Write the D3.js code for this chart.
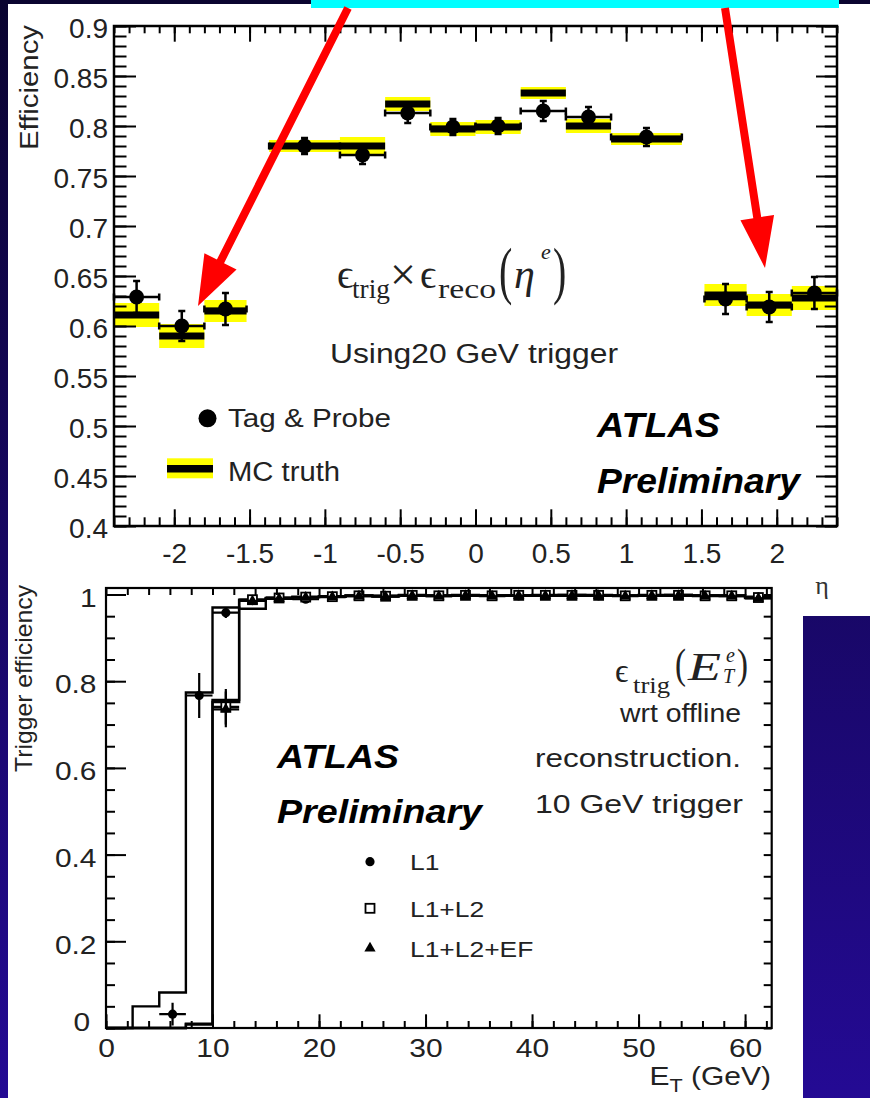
<!DOCTYPE html>
<html>
<head>
<meta charset="utf-8">
<script src="https://d3js.org/d3.v7.min.js"></script>
<style>
  body, html { margin: 0; padding: 0; overflow: hidden; background: #0b0533; }
  svg { display: block; }
  text { font-family: "Liberation Sans", Arial, sans-serif; fill: #222; }
  .serif { font-family: "Liberation Serif", "DejaVu Serif", serif; }
</style>
</head>
<body>
<svg id="slide" width="870" height="1098"></svg>
<script>
// ---------- top plot: efficiency vs eta ----------
var etaLo       = [-2.4, -2.1, -1.8, -1.37, -0.9, -0.6, -0.3, 0.0, 0.3, 0.6, 0.9, 1.52, 1.8, 2.1];
var etaHi       = [-2.1, -1.8, -1.52, -0.9, -0.6, -0.3, 0.0, 0.3, 0.6, 0.9, 1.37, 1.8, 2.1, 2.4];
var tagProbe    = [0.629, 0.600, 0.617, 0.780, 0.771, 0.813, 0.799, 0.800, 0.815, 0.809, 0.789, 0.627, 0.619, 0.633];
var tagProbeErr = [0.016, 0.015, 0.016, 0.008, 0.009, 0.010, 0.008, 0.008, 0.010, 0.010, 0.009, 0.015, 0.015, 0.016];
var mcTruth     = [0.611, 0.590, 0.615, 0.780, 0.780, 0.822, 0.797, 0.799, 0.833, 0.800, 0.787, 0.631, 0.621, 0.628];
var mcTruthErr  = [0.012, 0.012, 0.011, 0.006, 0.009, 0.007, 0.007, 0.007, 0.006, 0.007, 0.006, 0.011, 0.011, 0.012];
var etaTicks = [-2, -1.5, -1, -0.5, 0, 0.5, 1, 1.5, 2];
var effTicks = [0.4, 0.45, 0.5, 0.55, 0.6, 0.65, 0.7, 0.75, 0.8, 0.85, 0.9];

// ---------- bottom plot: trigger efficiency vs E_T ----------
var etEdges = [0, 2.5, 5, 7.5, 10, 12.5, 15, 17.5, 20, 22.5, 25, 27.5, 30, 32.5, 35, 37.5, 40, 42.5, 45, 47.5, 50, 52.5, 55, 57.5, 60, 62.5];
var histL1     = [0, 0.050, 0.082, 0.774, 0.970, 0.967, 0.991, 0.994, 0.996, 0.997, 0.996, 0.998, 0.997, 0.998, 0.998, 0.997, 0.998, 0.999, 0.998, 0.997, 0.998, 0.999, 0.998, 0.997, 0.995];
var histL1L2   = [0, 0, 0, 0.010, 0.757, 0.988, 0.992, 0.995, 0.996, 0.998, 0.997, 0.999, 0.998, 0.999, 0.998, 0.998, 0.999, 0.999, 0.999, 0.998, 0.999, 0.999, 0.998, 0.998, 0.994];
var histL1L2EF = [0, 0, 0, 0.008, 0.752, 0.986, 0.990, 0.994, 0.995, 0.997, 0.996, 0.998, 0.997, 0.998, 0.997, 0.997, 0.998, 0.998, 0.998, 0.997, 0.998, 0.998, 0.997, 0.997, 0.992];
var ptsL1      = [null, null, 0.032, 0.767, 0.958, 0.986, 0.993, 0.989, 0.996, 0.996, 0.997, 0.998, 0.996, 0.998, 0.997, 0.997, 0.998, 0.998, 0.997, 0.997, 0.998, 0.998, 0.997, 0.996, 0.994];
var errL1      = [0, 0, 0.026, 0.052, 0.012, 0.006, 0.004, 0.004, 0.003, 0.003, 0.003, 0.003, 0.003, 0.003, 0.003, 0.003, 0.003, 0.003, 0.003, 0.003, 0.003, 0.003, 0.003, 0.003, 0.004];
var ptsL1L2    = [null, null, null, null, 0.741, 0.988, 0.992, 0.994, 0.995, 0.997, 0.996, 0.998, 0.997, 0.998, 0.997, 0.998, 0.998, 0.998, 0.998, 0.997, 0.998, 0.998, 0.997, 0.997, 0.993];
var ptsL1L2EF  = [null, null, null, null, 0.735, 0.985, 0.990, 0.993, 0.994, 0.996, 0.995, 0.997, 0.996, 0.997, 0.996, 0.997, 0.997, 0.997, 0.997, 0.996, 0.997, 0.997, 0.996, 0.996, 0.991];
var errL1L2    = [0, 0, 0, 0, 0.041, 0.006, 0.004, 0.004, 0.003, 0.003, 0.003, 0.003, 0.003, 0.003, 0.003, 0.003, 0.003, 0.003, 0.003, 0.003, 0.003, 0.003, 0.003, 0.003, 0.004];
var etTicks = [0, 10, 20, 30, 40, 50, 60];
var trigTicks = [0, 0.2, 0.4, 0.6, 0.8, 1];
var legendLabels = ["L1", "L1+L2", "L1+L2+EF"];

var svg = d3.select("#slide");

// slide background
var defs = svg.append("defs");
var grad = defs.append("linearGradient").attr("id", "bg")
  .attr("gradientUnits", "userSpaceOnUse")
  .attr("x1", 0).attr("y1", 0).attr("x2", 0).attr("y2", 1098);
grad.append("stop").attr("offset", "0%").attr("stop-color", "#0a0430");
grad.append("stop").attr("offset", "100%").attr("stop-color", "#240a94");
svg.append("rect").attr("width", 870).attr("height", 1098).attr("fill", "url(#bg)");
svg.append("rect").attr("x", 8).attr("y", 4).attr("width", 862).attr("height", 1094).attr("fill", "#fff");
svg.append("rect").attr("x", 803).attr("y", 616).attr("width", 67).attr("height", 482).attr("fill", "url(#bg)");
svg.append("rect").attr("x", 311).attr("y", 0).attr("width", 528).attr("height", 8).attr("fill", "#00ffff");

// stretch text horizontally a bit, the slide figure is wider than the font
function widen(sel, k) {
  sel.each(function () {
    var w = this.getComputedTextLength();
    d3.select(this).attr("textLength", w * k).attr("lengthAdjust", "spacingAndGlyphs");
  });
  return sel;
}

function tickAxis(g, axisFn, scale, values, size, labels) {
  var ax = axisFn(scale).tickValues(values).tickSize(-size).tickSizeOuter(0);
  ax.tickFormat(labels ? function (d) { return String(d); } : "");
  g.call(ax);
  g.select(".domain").remove();
  g.attr("font-family", null).attr("font-size", null);
  g.selectAll("line").attr("stroke", "#000").attr("stroke-width", 2);
  return g;
}

function label(x, y, str, size, opts) {
  opts = opts || {};
  var t = svg.append("text").attr("x", x).attr("y", y).attr("font-size", size).text(str);
  if (opts.anchor) t.attr("text-anchor", opts.anchor);
  if (opts.weight) t.attr("font-weight", opts.weight);
  if (opts.italic) t.attr("font-style", "italic");
  if (opts.cls) t.attr("class", opts.cls);
  if (opts.len) t.attr("textLength", opts.len).attr("lengthAdjust", "spacingAndGlyphs");
  if (opts.rotate) t.attr("transform", "rotate(-90," + x + "," + y + ")");
  if (opts.fill) t.style("fill", opts.fill);
  return t;
}

function paren(x, cy, str, size, sy) {
  svg.append("g").attr("transform", "translate(" + x + "," + cy + ") scale(1," + sy + ")")
    .append("text").attr("class", "serif").attr("font-size", size)
    .attr("y", size * 0.26).text(str);
}

// ================= top plot =================
var xEta = d3.scaleLinear().domain([-2.4, 2.4]).range([114, 837]);
var yEff = d3.scaleLinear().domain([0.4, 0.9]).range([526, 26]);
var bins = etaLo.map(function (lo, i) {
  return { lo: lo, hi: etaHi[i], tp: tagProbe[i], tpErr: tagProbeErr[i], mc: mcTruth[i], mcErr: mcTruthErr[i] };
});

var p1 = svg.append("g");
p1.selectAll("rect.band").data(bins).join("rect").attr("class", "band")
  .attr("x", function (d) { return xEta(d.lo); })
  .attr("width", function (d) { return xEta(d.hi) - xEta(d.lo); })
  .attr("y", function (d) { return yEff(d.mc + d.mcErr); })
  .attr("height", function (d) { return yEff(d.mc - d.mcErr) - yEff(d.mc + d.mcErr); })
  .attr("fill", "#ffff00");
p1.selectAll("line.mc").data(bins).join("line").attr("class", "mc")
  .attr("x1", function (d) { return xEta(d.lo); })
  .attr("x2", function (d) { return xEta(d.hi); })
  .attr("y1", function (d) { return yEff(d.mc); })
  .attr("y2", function (d) { return yEff(d.mc); })
  .attr("stroke", "#000").attr("stroke-width", 7);
// tag & probe error bars with end caps
p1.selectAll("path.err").data(bins).join("path").attr("class", "err")
  .attr("d", function (d) {
    var x0 = xEta(d.lo), x1 = xEta(d.hi), cx = xEta((d.lo + d.hi) / 2);
    var y = yEff(d.tp), yt = yEff(d.tp + d.tpErr), yb = yEff(d.tp - d.tpErr), c = 3.5;
    return "M" + x0 + "," + y + "H" + x1 +
      "M" + x0 + "," + (y - c) + "V" + (y + c) +
      "M" + x1 + "," + (y - c) + "V" + (y + c) +
      "M" + cx + "," + yt + "V" + yb +
      "M" + (cx - c) + "," + yt + "H" + (cx + c) +
      "M" + (cx - c) + "," + yb + "H" + (cx + c);
  })
  .attr("fill", "none").attr("stroke", "#000").attr("stroke-width", 2.5);
p1.selectAll("circle.tp").data(bins).join("circle").attr("class", "tp")
  .attr("cx", function (d) { return xEta((d.lo + d.hi) / 2); })
  .attr("cy", function (d) { return yEff(d.tp); })
  .attr("r", 7.5).attr("fill", "#000");

// axes (ROOT style, ticks inside on all four sides)
var etaMinor = d3.range(-24, 25).map(function (v) { return v / 10; });
var effMinor = d3.range(40, 91).map(function (v) { return v / 100; });
tickAxis(p1.append("g").attr("transform", "translate(0,526)"), d3.axisBottom, xEta, etaMinor, 8.7, false);
var xb1 = tickAxis(p1.append("g").attr("transform", "translate(0,526)"), d3.axisBottom, xEta, etaTicks, 16.7, true);
xb1.selectAll("text").attr("y", 37).attr("dy", null).attr("font-size", 28);
tickAxis(p1.append("g").attr("transform", "translate(0,26)"), d3.axisTop, xEta, etaMinor, 7.3, false);
tickAxis(p1.append("g").attr("transform", "translate(0,26)"), d3.axisTop, xEta, etaTicks, 15.7, false);
tickAxis(p1.append("g").attr("transform", "translate(114,0)"), d3.axisLeft, yEff, effMinor, 12.5, false);
var yl1 = tickAxis(p1.append("g").attr("transform", "translate(114,0)"), d3.axisLeft, yEff, effTicks, 22, true);
yl1.selectAll("text").attr("x", -6).attr("dy", "0.4em").attr("font-size", 28);
tickAxis(p1.append("g").attr("transform", "translate(837,0)"), d3.axisRight, yEff, effMinor, 12.3, false);
tickAxis(p1.append("g").attr("transform", "translate(837,0)"), d3.axisRight, yEff, effTicks, 21, false);
p1.append("rect").attr("x", 114).attr("y", 26).attr("width", 723).attr("height", 500)
  .attr("fill", "none").attr("stroke", "#000").attr("stroke-width", 2.5);

label(38, 25, "Efficiency", 26, { anchor: "end", rotate: true, len: 125 });
label(822, 594, "\u03b7", 26, { anchor: "middle", cls: "serif", fill: "#333" });

// formula  eps_trig x eps_reco (eta^e)
label(337, 288, "\u03f5", 40, { cls: "serif" });
label(352, 298, "trig", 27, { cls: "serif", len: 38 });
label(390, 290, "\u00d7", 46, { cls: "serif", len: 26 });
label(420, 288, "\u03f5", 40, { cls: "serif" });
label(438, 298, "reco", 27, { cls: "serif", len: 58 });
paren(499, 275.5, "(", 40, 1.58);
label(514, 288, "\u03b7", 42, { cls: "serif", italic: true });
label(541, 259, "e", 22, { cls: "serif", italic: true });
paren(553, 275.5, ")", 40, 1.58);

label(330, 363, "Using20 GeV trigger", 27, { len: 288 });

// legend
svg.append("circle").attr("cx", 207.5).attr("cy", 418.3).attr("r", 9).attr("fill", "#000");
label(228, 427, "Tag & Probe", 26, { len: 163 });
svg.append("rect").attr("x", 167).attr("y", 458.3).attr("width", 46).attr("height", 20).attr("fill", "#ffff00");
svg.append("line").attr("x1", 167).attr("x2", 213).attr("y1", 468.8).attr("y2", 468.8)
  .attr("stroke", "#000").attr("stroke-width", 7.5);
label(228, 481, "MC truth", 27, { len: 112 });

label(597, 437, "ATLAS", 35, { weight: "bold", italic: true, len: 123 }).style("fill", "#000");
label(597, 493, "Preliminary", 35, { weight: "bold", italic: true, len: 203 }).style("fill", "#000");

// ================= bottom plot =================
var xEt = d3.scaleLinear().domain([0, 62.5]).range([106, 771.7]);
var yTrig = d3.scaleLinear().domain([0, 1.015]).range([1028, 588]);
var p2 = svg.append("g");

function stepPoints(vals) {
  var pts = [];
  vals.forEach(function (v, i) {
    pts.push([etEdges[i], v]);
    pts.push([etEdges[i + 1], v]);
  });
  return pts;
}
var stepLine = d3.line()
  .x(function (d) { return xEt(d[0]); })
  .y(function (d) { return yTrig(d[1]); });
[histL1, histL1L2, histL1L2EF].forEach(function (h) {
  p2.append("path").attr("d", stepLine(stepPoints(h)))
    .attr("fill", "none").attr("stroke", "#000").attr("stroke-width", 2.4);
});

function seriesPts(vals, errs) {
  var out = [];
  vals.forEach(function (v, i) {
    if (v === null) return;
    out.push({ lo: etEdges[i], hi: etEdges[i + 1], v: v, e: errs[i] });
  });
  return out;
}
var series = [
  { pts: seriesPts(ptsL1, errL1), kind: "circle" },
  { pts: seriesPts(ptsL1L2, errL1L2), kind: "square" },
  { pts: seriesPts(ptsL1L2EF, errL1L2), kind: "triangle" }
];
var triSym = d3.symbol().type(d3.symbolTriangle).size(55);
series.forEach(function (s) {
  var g = p2.append("g");
  g.selectAll("path.err").data(s.pts).join("path").attr("class", "err")
    .attr("d", function (d) {
      var cx = xEt((d.lo + d.hi) / 2), y = yTrig(d.v);
      return "M" + xEt(d.lo) + "," + y + "H" + xEt(d.hi) +
        "M" + cx + "," + yTrig(Math.min(d.v + d.e, 1.013)) + "V" + yTrig(Math.max(d.v - d.e, 0));
    })
    .attr("fill", "none").attr("stroke", "#000").attr("stroke-width", 2.2);
  var m = g.selectAll("g.m").data(s.pts).join("g").attr("class", "m")
    .attr("transform", function (d) { return "translate(" + xEt((d.lo + d.hi) / 2) + "," + yTrig(d.v) + ")"; });
  if (s.kind === "circle") m.append("circle").attr("r", 4.6).attr("fill", "#000");
  if (s.kind === "square") m.append("rect").attr("x", -4.5).attr("y", -4.5).attr("width", 9).attr("height", 9)
    .attr("fill", "#fff").attr("stroke", "#000").attr("stroke-width", 1.8);
  if (s.kind === "triangle") m.append("path").attr("d", triSym()).attr("fill", "#000");
});

var etMinor = d3.range(0, 63, 2);
var trigMinor = d3.range(0, 21).map(function (v) { return v * 0.05; });
tickAxis(p2.append("g").attr("transform", "translate(0,1028)"), d3.axisBottom, xEt, etMinor, 7, false);
var xb2 = tickAxis(p2.append("g").attr("transform", "translate(0,1028)"), d3.axisBottom, xEt, etTicks, 13.7, true);
xb2.selectAll("text").attr("y", 28.7).attr("dy", null).attr("font-size", 25);
tickAxis(p2.append("g").attr("transform", "translate(0,588)"), d3.axisTop, xEt, etMinor, 7, false);
tickAxis(p2.append("g").attr("transform", "translate(106,0)"), d3.axisLeft, yTrig, trigMinor, 9, false);
var yl2 = tickAxis(p2.append("g").attr("transform", "translate(106,0)"), d3.axisLeft, yTrig, trigTicks, 20, true);
yl2.selectAll("text").attr("x", -9.5).attr("dy", "0.45em").attr("font-size", 26);
yl2.selectAll("text").filter(function (d) { return d === 0; }).attr("x", -16).attr("dy", "0.1em");
tickAxis(p2.append("g").attr("transform", "translate(771.7,0)"), d3.axisRight, yTrig, trigMinor, 8, false);
p2.append("rect").attr("x", 106).attr("y", 588).attr("width", 665.7).attr("height", 440)
  .attr("fill", "none").attr("stroke", "#000").attr("stroke-width", 2.2);
widen(xb2.selectAll("text"), 1.2);
widen(yl2.selectAll("text"), 1.15);

label(32, 585, "Trigger efficiency", 24, { anchor: "end", rotate: true, len: 187 });
var etTitle = svg.append("text").attr("x", 771).attr("y", 1085).attr("text-anchor", "end").attr("font-size", 25);
etTitle.append("tspan").text("E");
etTitle.append("tspan").attr("font-size", 18).attr("dy", 7).text("T");
etTitle.append("tspan").attr("dy", -7).text(" (GeV)");
widen(etTitle, 1.2);

// formula eps_trig (E_T^e)
label(615, 681.7, "\u03f5", 33, { cls: "serif" });
label(633, 693, "trig", 24, { cls: "serif", len: 37 });
paren(675, 666.5, "(", 33, 1.3);
label(688, 680, "E", 40, { cls: "serif", italic: true, len: 33 });
label(726, 662, "e", 20, { cls: "serif", italic: true });
label(723, 683, "T", 20, { cls: "serif", italic: true });
paren(737, 666.5, ")", 33, 1.3);

label(620, 722, "wrt offline", 26, { len: 121 });
label(535, 767, "reconstruction.", 26, { len: 206 });
label(535, 813, "10 GeV trigger", 26, { len: 208 });

label(277, 768, "ATLAS", 33, { weight: "bold", italic: true, len: 122 }).style("fill", "#000");
label(277, 823, "Preliminary", 33, { weight: "bold", italic: true, len: 205 }).style("fill", "#000");

// legend
var legY = [861.7, 908.3, 948.3];
svg.append("circle").attr("cx", 370).attr("cy", legY[0]).attr("r", 4.6).attr("fill", "#000");
svg.append("rect").attr("x", 365.5).attr("y", legY[1] - 4.5).attr("width", 9).attr("height", 9)
  .attr("fill", "#fff").attr("stroke", "#000").attr("stroke-width", 1.8);
svg.append("path").attr("transform", "translate(370," + legY[2] + ")").attr("d", triSym()).attr("fill", "#000");
legendLabels.forEach(function (s, i) {
  widen(label(410, legY[i] + 8.5, s, 22), 1.2);
});

// ================= red arrows from the (cropped) cyan box =================
function arrow(x0, y0, x1, y1, headLen, headHalf, shaft) {
  var dx = x1 - x0, dy = y1 - y0, L = Math.sqrt(dx * dx + dy * dy);
  var ux = dx / L, uy = dy / L, nx = -uy, ny = ux;
  var bx = x1 - ux * headLen, by = y1 - uy * headLen;
  var h = shaft / 2;
  var pts = [
    [x0 + nx * h, y0 + ny * h], [bx + nx * h, by + ny * h], [bx + nx * headHalf, by + ny * headHalf],
    [x1, y1],
    [bx - nx * headHalf, by - ny * headHalf], [bx - nx * h, by - ny * h], [x0 - nx * h, y0 - ny * h]
  ];
  svg.append("path").attr("d", "M" + pts.join("L") + "Z").attr("fill", "#ff0000");
}
arrow(348, 8, 198, 306, 50, 18, 8);
arrow(725, 8, 765, 268, 51, 17, 8);
</script>
</body>
</html>
